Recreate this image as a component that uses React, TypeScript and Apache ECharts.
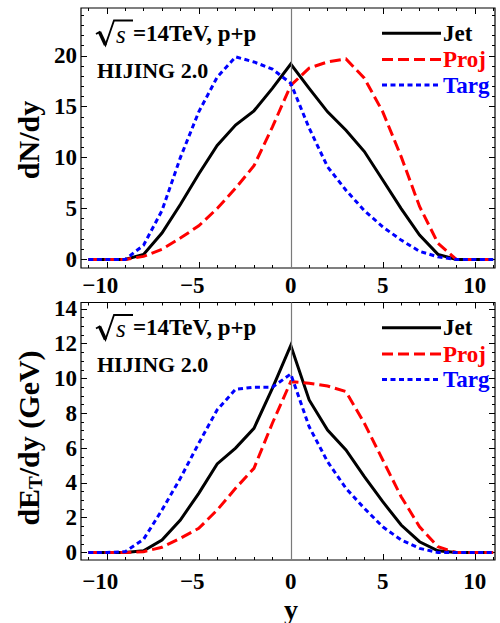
import React, { useEffect, useRef } from 'react';
import * as echarts from 'echarts';

// rapidity values (x)
const rapidity = [-11, -10, -9, -8, -7, -6, -5, -4, -3, -2, -1, 0, 1, 2, 3, 4, 5, 6, 7, 8, 9, 10, 11];

// top panel: dN/dy
const jetN = [0, 0, 0, 0.5, 2.6, 5.4, 8.4, 11.2, 13.2, 14.6, 16.8, 19.2, 16.8, 14.5, 12.7, 10.6, 7.8, 5.0, 2.4, 0.5, 0, 0, 0];
const projN = [0, 0, 0, 0.3, 1.0, 2.1, 3.3, 5.0, 7.0, 9.2, 13.0, 17.1, 18.8, 19.4, 19.7, 17.8, 14.5, 10.1, 5.2, 1.6, 0, 0, 0];
const targN = [0, 0, 0, 1.4, 4.8, 10.0, 14.5, 17.9, 19.9, 19.4, 18.7, 17.3, 12.9, 9.1, 6.8, 4.8, 3.2, 1.9, 0.8, 0.25, 0, 0, 0];

// bottom panel: dE_T/dy (GeV)
const jetE = [0, 0, 0, 0.1, 0.72, 1.87, 3.4, 5.09, 6.0, 7.14, 9.44, 11.9, 8.77, 7.04, 5.9, 4.36, 2.92, 1.58, 0.62, 0.1, 0, 0, 0];
const projE = [0, 0, 0, 0.05, 0.3, 0.82, 1.39, 2.44, 3.69, 4.84, 7.43, 9.82, 9.73, 9.57, 9.25, 7.43, 5.32, 3.21, 1.48, 0.33, 0, 0, 0];
const targE = [0, 0, 0.05, 0.76, 2.44, 4.27, 6.28, 8.2, 9.38, 9.5, 9.5, 10.26, 7.23, 5.22, 3.69, 2.54, 1.48, 0.72, 0.24, 0, 0, 0, 0];

// tick values
const xMajor = [-10, -5, 0, 5, 10];
const xMinor = [-11, -9, -8, -7, -6, -4, -3, -2, -1, 1, 2, 3, 4, 6, 7, 8, 9, 11];
const yMajorN = [0, 5, 10, 15, 20];
const yMinorN = [1, 2, 3, 4, 6, 7, 8, 9, 11, 12, 13, 14, 16, 17, 18, 19, 21, 22, 23, 24];
const yMajorE = [0, 2, 4, 6, 8, 10, 12, 14];
const yMinorE = [0.5, 1, 1.5, 2.5, 3, 3.5, 4.5, 5, 5.5, 6.5, 7, 7.5, 8.5, 9, 9.5, 10.5, 11, 11.5, 12.5, 13, 13.5];

const seriesNames = ['Jet', 'Proj', 'Targ'];
const seriesColors = ['#000000', '#ff0000', '#0000ff'];

const FONT = "'Liberation Serif', 'Times New Roman', serif";

const pairs = (ys: number[]) => rapidity.map((x, i) => [x, ys[i]]);

function buildAxes(gi: number, yMin: number, yMax: number, yMajor: number[], yMinor: number[], xLabelMargin: number) {
  const xMin = -11.4;
  const xMax = 11.1;
  const common = {
    gridIndex: gi,
    type: 'value' as const,
    axisLine: { show: false, onZero: false },
    splitLine: { show: false },
  };
  const tickStyle = { color: '#000', width: 1 };
  const xAxes = [
    {
      ...common, min: xMin, max: xMax, position: 'bottom',
      axisTick: { show: true, inside: true, length: 6, customValues: xMajor, lineStyle: tickStyle },
      axisLabel: {
        show: true, customValues: xMajor, margin: xLabelMargin,
        fontSize: 23, fontWeight: 'bold', fontFamily: FONT, color: '#000',
        formatter: (v: number) => (v < 0 ? `\u2212${Math.abs(v)}{h|\u2212}` : `${v}`),
        rich: { h: { color: 'transparent', fontSize: 23, fontWeight: 'bold', fontFamily: FONT } },
      },
    },
    {
      ...common, min: xMin, max: xMax, position: 'bottom',
      axisTick: { show: true, inside: true, length: 3, customValues: xMinor, lineStyle: tickStyle },
      axisLabel: { show: false },
    },
    {
      ...common, min: xMin, max: xMax, position: 'top',
      axisTick: { show: true, inside: true, length: 6, customValues: xMajor, lineStyle: tickStyle },
      axisLabel: { show: false },
    },
    {
      ...common, min: xMin, max: xMax, position: 'top',
      axisTick: { show: true, inside: true, length: 3, customValues: xMinor, lineStyle: tickStyle },
      axisLabel: { show: false },
    },
  ];
  const yAxes = [
    {
      ...common, min: yMin, max: yMax, position: 'left',
      axisTick: { show: true, inside: true, length: 6, customValues: yMajor, lineStyle: tickStyle },
      axisLabel: {
        show: true, customValues: yMajor, margin: 4,
        fontSize: 23, fontWeight: 'bold', fontFamily: FONT, color: '#000',
      },
    },
    {
      ...common, min: yMin, max: yMax, position: 'left',
      axisTick: { show: true, inside: true, length: 3, customValues: yMinor, lineStyle: tickStyle },
      axisLabel: { show: false },
    },
    {
      ...common, min: yMin, max: yMax, position: 'right',
      axisTick: { show: true, inside: true, length: 6, customValues: yMajor, lineStyle: tickStyle },
      axisLabel: { show: false },
    },
    {
      ...common, min: yMin, max: yMax, position: 'right',
      axisTick: { show: true, inside: true, length: 3, customValues: yMinor, lineStyle: tickStyle },
      axisLabel: { show: false },
    },
  ];
  return { xAxes, yAxes };
}

function buildSeries(gi: number, data: number[][]) {
  const idx = gi * 4;
  const styles = [
    { width: 3, type: 'solid' },
    { width: 3, type: [11, 5] },
    { width: 3, type: [5, 3.5] },
  ];
  const out: any[] = [
    {
      type: 'line', name: 'zero' + gi, xAxisIndex: idx, yAxisIndex: idx, data: [],
      markLine: {
        silent: true, symbol: ['none', 'none'], label: { show: false },
        lineStyle: { color: '#7a7a7a', width: 1.2, type: 'solid' },
        data: [{ xAxis: 0 }],
      },
    },
  ];
  data.forEach((ys, k) => {
    out.push({
      type: 'line', name: seriesNames[k], xAxisIndex: idx, yAxisIndex: idx,
      data: pairs(ys), showSymbol: false, symbol: 'none',
      lineStyle: { color: seriesColors[k], width: styles[k].width, type: styles[k].type, cap: 'butt', join: 'miter' },
      z: 3 + k,
    });
  });
  return out;
}

function panelGraphics(dy: number) {
  const els: any[] = [];
  // radical sign
  els.push({ type: 'polyline', shape: { points: [[96, 34 + dy], [99.5, 32 + dy], [105.5, 45 + dy], [114, 20.5 + dy], [133, 20.5 + dy]] }, style: { stroke: '#000', lineWidth: 1.8, fill: null } });
  els.push({ type: 'line', shape: { x1: 99.5, y1: 32 + dy, x2: 105.5, y2: 45 + dy }, style: { stroke: '#000', lineWidth: 3.4 } });
  els.push({ type: 'text', x: 116, y: 34 + dy, style: { text: 's', font: `italic 25px ${FONT}`, fill: '#000', align: 'left', verticalAlign: 'middle' } });
  els.push({ type: 'text', x: 133, y: 33 + dy, style: { text: '=14TeV, p+p', font: `bold 23px ${FONT}`, fill: '#000', align: 'left', verticalAlign: 'middle' } });
  els.push({ type: 'text', x: 97, y: 70 + dy, style: { text: 'HIJING 2.0', font: `bold 22px ${FONT}`, fill: '#000', align: 'left', verticalAlign: 'middle' } });
  // legend
  const ly = [33.3, 59.5, 85];
  const dashes: any[] = [null, [11, 5], [5, 3.5]];
  seriesNames.forEach((nm, k) => {
    els.push({ type: 'line', shape: { x1: 382, y1: ly[k] + dy, x2: 441, y2: ly[k] + dy }, style: { stroke: seriesColors[k], lineWidth: 3, lineDash: dashes[k] } });
    els.push({ type: 'text', x: 443, y: ly[k] + dy, style: { text: nm, font: `bold 23px ${FONT}`, fill: seriesColors[k], align: 'left', verticalAlign: 'middle' } });
  });
  return els;
}

export default function App() {
  const ref = useRef<HTMLDivElement>(null);
  useEffect(() => {
    document.body.style.margin = '0';
    if (!ref.current) return;
    const chart = echarts.init(ref.current, null, { renderer: 'svg' });
    const top = buildAxes(0, -0.84, 24.7, yMajorN, yMinorN, 6);
    const bot = buildAxes(1, -0.43, 14.37, yMajorE, yMinorE, 10);
    const option: any = {
      animation: false,
      backgroundColor: '#ffffff',
      grid: [
        { left: 81, top: 8, width: 414, height: 260, show: true, borderColor: '#000', borderWidth: 1.2, backgroundColor: 'transparent' },
        { left: 81, top: 302.5, width: 414, height: 257.5, show: true, borderColor: '#000', borderWidth: 1.2, backgroundColor: 'transparent' },
      ],
      xAxis: [...top.xAxes, ...bot.xAxes],
      yAxis: [...top.yAxes, ...bot.yAxes],
      series: [...buildSeries(0, [jetN, projN, targN]), ...buildSeries(1, [jetE, projE, targE])],
      graphic: [
        ...panelGraphics(0),
        ...panelGraphics(294.5),
        { type: 'text', x: 28, y: 140, rotation: Math.PI / 2, style: { text: 'dN/dy', font: `bold 30px ${FONT}`, fill: '#000', align: 'center', verticalAlign: 'middle' } },
        {
          type: 'text', x: 28, y: 438, rotation: Math.PI / 2,
          style: {
            text: 'dE{s|T}/dy (GeV)', font: `bold 30px ${FONT}`, fill: '#000', align: 'center', verticalAlign: 'middle',
            rich: { s: { font: `bold 19px ${FONT}`, fontSize: 19, fontWeight: 'bold', fontFamily: FONT, fill: '#000', padding: [14, 0, 0, 0] } },
          },
        },
        { type: 'text', x: 291, y: 609, style: { text: 'y', font: `bold 28px ${FONT}`, fill: '#000', align: 'center', verticalAlign: 'middle' } },
      ],
    };
    chart.setOption(option);
    return () => chart.dispose();
  }, []);
  return <div ref={ref} style={{ width: 500, height: 623 }} />;
}
